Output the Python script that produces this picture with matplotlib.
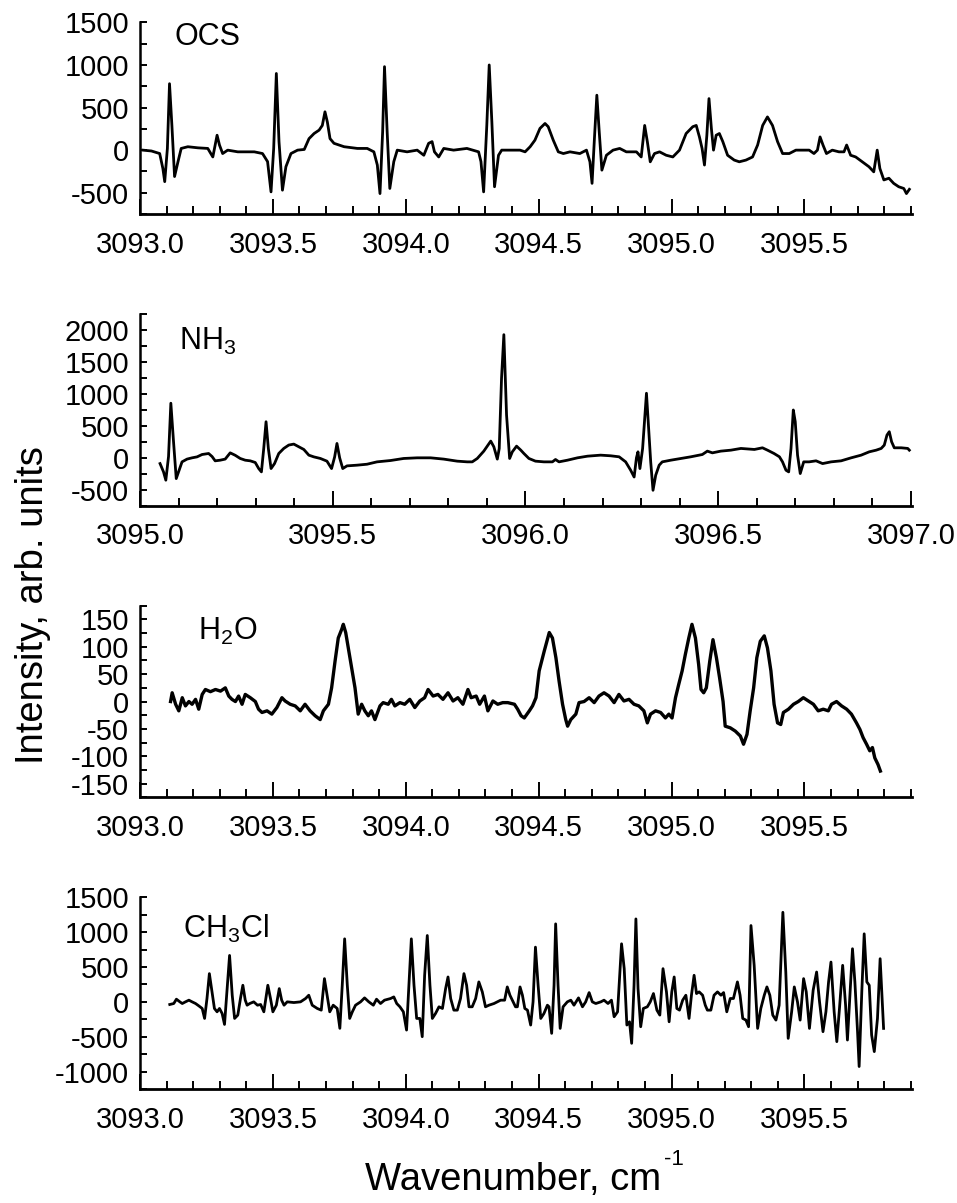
import matplotlib
matplotlib.use('Agg')
import matplotlib.pyplot as plt
from matplotlib.ticker import MultipleLocator, FormatStrFormatter

plt.rcParams['font.family'] = ['Liberation Sans', 'DejaVu Sans']
plt.rcParams['mathtext.fontset'] = 'custom'
plt.rcParams['mathtext.rm'] = 'Liberation Sans'
plt.rcParams['mathtext.it'] = 'Liberation Sans:italic'
plt.rcParams['axes.unicode_minus'] = False

# OCS
ocs_x = [3093.011, 3093.043, 3093.074, 3093.086, 3093.093, 3093.103, 3093.111, 3093.120, 3093.130, 3093.143,
         3093.155, 3093.180, 3093.218, 3093.255, 3093.274, 3093.290, 3093.299, 3093.311, 3093.330, 3093.368,
         3093.430, 3093.461, 3093.480, 3093.493, 3093.503, 3093.513, 3093.523, 3093.536, 3093.549, 3093.568,
         3093.593, 3093.618, 3093.636, 3093.655, 3093.674, 3093.686, 3093.696, 3093.705, 3093.715, 3093.730,
         3093.768, 3093.818, 3093.855, 3093.880, 3093.893, 3093.903, 3093.913, 3093.920, 3093.930, 3093.940,
         3093.955, 3093.968, 3094.005, 3094.043, 3094.068, 3094.086, 3094.099, 3094.108, 3094.124, 3094.143,
         3094.180, 3094.230, 3094.274, 3094.283, 3094.293, 3094.305, 3094.314, 3094.324, 3094.334, 3094.349,
         3094.361, 3094.418,
         3094.430, 3094.449, 3094.468, 3094.486, 3094.505, 3094.524, 3094.536, 3094.555, 3094.574, 3094.593,
         3094.618, 3094.655, 3094.680, 3094.693, 3094.701, 3094.710, 3094.719, 3094.728, 3094.738, 3094.755,
         3094.780, 3094.805, 3094.830, 3094.868, 3094.886, 3094.899, 3094.909, 3094.920, 3094.936, 3094.955,
         3094.980, 3095.005, 3095.030, 3095.055, 3095.080, 3095.093, 3095.105, 3095.115, 3095.124, 3095.133,
         3095.141, 3095.150, 3095.158, 3095.168, 3095.180, 3095.193, 3095.211, 3095.236, 3095.255, 3095.280,
         3095.305, 3095.324, 3095.343, 3095.361, 3095.380, 3095.399, 3095.418, 3095.443, 3095.468, 3095.493,
         3095.518, 3095.536, 3095.549, 3095.559, 3095.570, 3095.583, 3095.605, 3095.630, 3095.649, 3095.659,
         3095.674, 3095.693, 3095.718, 3095.743, 3095.761, 3095.774, 3095.784, 3095.799, 3095.818, 3095.836,
         3095.855, 3095.874, 3095.884, 3095.895]
ocs_y = [0, -10, -40, -215, -370, 20, 780, 290, -310, -135,
         20, 40, 27, 20, -80, 175, 60, -40, 0, -20,
         -20, -40, -135, -490, 20, 900, 100, -470, -195, -40,
         0, 8, 135, 195, 235, 290, 450, 330, 135, 80,
         40, 20, 20, -20, -175, -510, 215, 980, 215, -450,
         -135, 0, -20, 0, -60, 80, 100, -20, -80, 20,
         0, 20, -20, -135, -490, 295, 1000, 330, -430, -60,
         0, 0,
         0, -20, 40, 117, 255, 313, 275, 117, -20, -40,
         -20, -40, 0, -137, -390, 140, 645, 215, -235, -60,
         0, 20, -20, -20, -80, 290, 100, -137, -40, -20,
         -60, -80, 0, 195, 275, 290, 155, 20, -175, 175,
         605, 255, 0, 175, 195, 100, -60, -117, -137, -117,
         -80, 60, 290, 390, 290, 100, -40, -40, 0, 0,
         0, -40, 0, 155, 60, -40, 0, -20, -20, 60,
         -60, -80, -137, -195, -255, 0, -215, -350, -330, -390,
         -430, -450, -510, -460]

# NH3
nh3_x = [3095.052, 3095.061, 3095.067, 3095.074, 3095.080, 3095.087, 3095.094, 3095.100, 3095.109, 3095.122,
         3095.135, 3095.148, 3095.161, 3095.178, 3095.187, 3095.195, 3095.208, 3095.221, 3095.234, 3095.247,
         3095.260, 3095.273, 3095.286, 3095.299, 3095.308, 3095.315, 3095.321, 3095.327, 3095.333, 3095.340,
         3095.349, 3095.360, 3095.373, 3095.386, 3095.399, 3095.412, 3095.425, 3095.438, 3095.451, 3095.468,
         3095.485, 3095.497, 3095.505, 3095.511, 3095.518, 3095.526, 3095.537, 3095.563, 3095.589, 3095.615,
         3095.650, 3095.684, 3095.719, 3095.754, 3095.788, 3095.823, 3095.849, 3095.862, 3095.875, 3095.892,
         3095.910, 3095.918, 3095.927, 3095.932, 3095.938, 3095.944, 3095.951, 3095.959, 3095.966, 3095.977,
         3095.988,
         3095.996, 3096.009, 3096.026, 3096.048, 3096.070, 3096.078, 3096.087, 3096.109, 3096.135, 3096.161,
         3096.195, 3096.221, 3096.243, 3096.260, 3096.273, 3096.282, 3096.288, 3096.292, 3096.297, 3096.304,
         3096.309, 3096.314, 3096.319, 3096.325, 3096.331, 3096.338, 3096.347, 3096.355, 3096.377, 3096.403,
         3096.429, 3096.459, 3096.472, 3096.485, 3096.507, 3096.533, 3096.559, 3096.594, 3096.615, 3096.628,
         3096.645, 3096.659, 3096.667, 3096.676, 3096.683, 3096.689, 3096.695, 3096.700, 3096.706, 3096.713,
         3096.722, 3096.736, 3096.754, 3096.771, 3096.793, 3096.819, 3096.845, 3096.871, 3096.892, 3096.910,
         3096.923, 3096.931, 3096.938, 3096.944, 3096.950, 3096.957, 3096.975, 3096.992, 3096.996]
nh3_y = [-90, -220, -350, 20, 855, 250, -325, -220, -63, -20,
         0, 15, 52, 68, 20, -47, -37, -20, 78, 40,
         -10, -37, -47, -73, -168, -220, 145, 565, 145, -168,
         -90, 68, 147, 200, 215, 173, 131, 42, 15, -10,
         -52, -168, 15, 225, 0, -168, -126, -115, -100, -63,
         -42, -10, 0, 0, -20, -52, -63, -63, -10, 105,
         262, 173, -20, 145, 1247, 1928, 670, -10, 94, 183,
         120,
         68, -10, -52, -63, -63, -26, -63, -37, 0, 26,
         42, 32, 16, -63, -194, -300, 0, 94, -168, 145,
         566, 1011, 513, -63, -508, -272, -115, -63, -37, -10,
         16, 52, 105, 78, 105, 120, 147, 131, 157, 120,
         68, 16, -63, -194, -220, 145, 749, 566, 42, -246,
         -63, -63, -47, -90, -63, -47, 0, 42, 94, 120,
         147, 199, 356, 409, 252, 157, 157, 147, 120]

# H2O
h2o_x = [3093.115, 3093.121, 3093.134, 3093.146, 3093.159, 3093.171, 3093.184, 3093.196, 3093.209, 3093.221,
         3093.234, 3093.246, 3093.265, 3093.284, 3093.303, 3093.321, 3093.334, 3093.346, 3093.359, 3093.371,
         3093.384, 3093.396, 3093.415, 3093.434, 3093.446, 3093.459, 3093.478, 3093.496, 3093.515, 3093.534,
         3093.546, 3093.565, 3093.584, 3093.603, 3093.621, 3093.640, 3093.659, 3093.678, 3093.690, 3093.709,
         3093.721, 3093.734, 3093.746, 3093.759, 3093.765, 3093.774, 3093.790, 3093.809, 3093.821, 3093.834,
         3093.846, 3093.859, 3093.871, 3093.884, 3093.903, 3093.915, 3093.934, 3093.946, 3093.959, 3093.978,
         3093.996, 3094.015, 3094.034, 3094.053, 3094.071, 3094.084, 3094.103, 3094.121, 3094.140, 3094.159,
         3094.178, 3094.196, 3094.215, 3094.234, 3094.246, 3094.265, 3094.278, 3094.296, 3094.309, 3094.328,
         3094.346, 3094.365, 3094.384, 3094.409,
         3094.421, 3094.434, 3094.446, 3094.465, 3094.477, 3094.490, 3094.502, 3094.521, 3094.540, 3094.552,
         3094.565, 3094.577, 3094.590, 3094.602, 3094.609, 3094.621, 3094.640, 3094.652, 3094.671, 3094.690,
         3094.709, 3094.727, 3094.746, 3094.765, 3094.784, 3094.802, 3094.821, 3094.840, 3094.859, 3094.877,
         3094.896, 3094.909, 3094.921, 3094.940, 3094.959, 3094.977, 3094.990, 3095.002, 3095.015, 3095.027,
         3095.040, 3095.052, 3095.065, 3095.077, 3095.090, 3095.102, 3095.111, 3095.121, 3095.131, 3095.144,
         3095.156, 3095.169, 3095.181, 3095.194, 3095.202, 3095.221, 3095.240, 3095.259, 3095.271, 3095.284,
         3095.296, 3095.309, 3095.321, 3095.334, 3095.349, 3095.361, 3095.374, 3095.386, 3095.399, 3095.411,
         3095.421, 3095.440, 3095.459, 3095.477, 3095.496, 3095.515, 3095.534, 3095.552, 3095.571, 3095.590,
         3095.602, 3095.621, 3095.640, 3095.659, 3095.677, 3095.696, 3095.709, 3095.721, 3095.734, 3095.746,
         3095.756, 3095.765, 3095.777, 3095.786]
h2o_y = [0, 16, -5, -17, 7, -8, 0, -5, 4, -14,
         13, 22, 18, 22, 19, 25, 10, 4, 0, 10,
         -5, 13, 7, 0, -14, -20, -17, -23, -11, 7,
         1, -5, -8, -17, -5, -17, -26, -33, -17, -5,
         25, 74, 116, 132, 141, 126, 80, 25, -23, -5,
         -17, -26, -17, -33, -8, -2, -5, 4, -8, -2,
         -5, 4, -11, 1, 7, 22, 10, 13, 4, 16,
         1, 7, -5, 22, 7, 10, -5, 10, -17, 1,
         -5, -2, -2, -5,
         -14, -26, -30, -17, -8, 7, 56, 92, 126, 116,
         80, 37, -5, -33, -45, -33, -23, -2, 0, 7,
         -2, 10, 16, 10, -2, 13, 1, 4, -5, -8,
         -17, -39, -23, -17, -20, -30, -23, -30, 7, 31,
         56, 86, 116, 141, 116, 68, 22, 16, 25, 74,
         113, 80, 43, 0, -45, -48, -54, -63, -78, -60,
         -17, 25, 80, 110, 120, 98, 56, -5, -39, -42,
         -20, -14, -5, 0, 7, 1, -5, -17, -14, -17,
         -5, 0, -8, -14, -23, -39, -51, -66, -78, -90,
         -84, -103, -115, -127]

# CH3Cl
ch3cl_x = [3093.112, 3093.127, 3093.137, 3093.150, 3093.159, 3093.171, 3093.184, 3093.196, 3093.209, 3093.221,
           3093.234, 3093.243, 3093.252, 3093.261, 3093.271, 3093.280, 3093.290, 3093.299, 3093.309, 3093.318,
           3093.328, 3093.337, 3093.347, 3093.356, 3093.368, 3093.378, 3093.387, 3093.396, 3093.403, 3093.413,
           3093.428, 3093.442, 3093.454, 3093.466, 3093.481, 3093.491, 3093.500, 3093.513, 3093.524, 3093.533,
           3093.542, 3093.554, 3093.579, 3093.604, 3093.623, 3093.635, 3093.648, 3093.667, 3093.682, 3093.694,
           3093.704, 3093.714, 3093.727, 3093.742, 3093.752, 3093.761, 3093.770, 3093.780, 3093.789, 3093.799,
           3093.811, 3093.830, 3093.845, 3093.861, 3093.878, 3093.890, 3093.905, 3093.920, 3093.943, 3093.955,
           3093.966, 3093.978, 3093.991, 3094.003, 3094.012, 3094.021, 3094.031, 3094.041, 3094.053, 3094.062,
           3094.071, 3094.081, 3094.091, 3094.100, 3094.112, 3094.125, 3094.138, 3094.150, 3094.159, 3094.169,
           3094.181, 3094.194, 3094.206, 3094.219, 3094.229, 3094.238, 3094.250, 3094.263, 3094.275, 3094.288,
           3094.300, 3094.313, 3094.332, 3094.357, 3094.372, 3094.382, 3094.392, 3094.401, 3094.413,
           3094.420, 3094.430, 3094.439, 3094.448, 3094.458, 3094.470, 3094.479, 3094.488, 3094.498, 3094.508,
           3094.520, 3094.533, 3094.539, 3094.549, 3094.558, 3094.564, 3094.573, 3094.581, 3094.592, 3094.608,
           3094.621, 3094.633, 3094.650, 3094.665, 3094.677, 3094.690, 3094.702, 3094.715, 3094.734, 3094.746,
           3094.761, 3094.774, 3094.784, 3094.797, 3094.812, 3094.822, 3094.832, 3094.842, 3094.850, 3094.859,
           3094.866, 3094.874, 3094.884, 3094.894, 3094.909, 3094.920, 3094.932, 3094.945, 3094.956, 3094.968,
           3094.981, 3094.991, 3095.001, 3095.010, 3095.020, 3095.030, 3095.042, 3095.054, 3095.066, 3095.075,
           3095.085, 3095.094, 3095.104, 3095.117, 3095.127, 3095.135, 3095.148, 3095.160, 3095.173, 3095.186,
           3095.196, 3095.208, 3095.221, 3095.233, 3095.248, 3095.258, 3095.268, 3095.280, 3095.290, 3095.299,
           3095.311, 3095.324, 3095.336, 3095.349, 3095.359, 3095.370, 3095.381, 3095.393, 3095.405, 3095.419,
           3095.430, 3095.439, 3095.452, 3095.462, 3095.474, 3095.484, 3095.497, 3095.507, 3095.519, 3095.533,
           3095.546, 3095.557, 3095.570, 3095.581, 3095.591, 3095.600, 3095.612, 3095.622, 3095.632, 3095.644,
           3095.655, 3095.662, 3095.672, 3095.681, 3095.690, 3095.700, 3095.706, 3095.716, 3095.725, 3095.735,
           3095.744, 3095.753, 3095.763, 3095.775, 3095.785, 3095.798]
ch3cl_y = [-38, -24, 38, 0, -24, 0, 24, 0, -24, -57,
           -95, -238, 48, 405, 143, -95, -143, -95, -167, -324,
           190, 666, 95, -238, -190, 48, 238, 24, -48, -24,
           0, -48, -38, -143, 238, 48, -143, -48, 190, 24,
           -48, 0, -10, 0, 48, 95, -48, -95, -119, 333,
           95, -143, -48, -95, -380, 238, 904, 238, -238, -143,
           -48, 0, 57, 0, -48, 38, -24, 24, 48, 71,
           -24, -71, -143, -405, 238, 904, 238, -238, -238, -500,
           380, 952, 238, -238, -167, -71, -95, 190, 357, 48,
           -119, -119, 48, 405, 238, -71, -71, 48, 286, 143,
           -71, -48, -24, 24, 24, 214, 95, 24, -71,
           -71, 214, 95, -95, -119, -333, 0, 785, 238, -238,
           -167, -48, -71, -452, 238, 1119, 238, -381, -71, 0,
           24, -48, 57, -71, 0, 133, 0, -24, 0, 24,
           -24, 24, -214, -143, 833, 476, -333, -286, -595, 238,
           1190, 190, -357, -95, -71, 0, 119, -119, -190, 476,
           143, -286, 143, 357, -95, -119, 24, 95, -238, 95,
           381, 119, 143, 95, -48, -119, -119, 95, 143, 95,
           133, -143, 48, 48, 286, 95, -238, -262, -357, 1095,
           524, -381, -95, 95, 214, 95, -190, -262, -48, 1285,
           428, -524, -143, 214, 0, -262, 333, 143, -381, 167,
           428, 0, -428, -143, 286, 571, -143, -571, -95, 524,
           -48, -548, 143, 762, 286, -428, -928, 143, 976, 286,
           238, -476, -714, -238, 619, -381]

fig = plt.figure(figsize=(9.57, 12.03), dpi=100)

panels = [
    (ocs_x, ocs_y, 'OCS', (3093.0, 3095.905), (-750, 1500), 500, 250, 0.8221, (0.045, 0.882), 2.0),
    (nh3_x, nh3_y, 'NH$_3$', (3095.0, 3097.003), (-750, 2250), 500, 250, 0.5796, (0.05, 0.812), 2.0),
    (h2o_x, h2o_y, 'H$_2$O', (3093.0, 3095.905), (-175, 175), 50, 25, 0.3372, (0.075, 0.824), 2.4),
    (ch3cl_x, ch3cl_y, 'CH$_3$Cl', (3093.0, 3095.905), (-1250, 1500), 500, 250, 0.0948, (0.056, 0.789), 2.0),
]

for xs, ys, name, xlim, ylim, ymaj, ymin, bottom, lab, lw in panels:
    ax = fig.add_axes([0.1463, bottom, 0.8067, 0.1593])
    ax.plot(xs, ys, color='black', lw=lw)
    ax.set_xlim(xlim)
    ax.set_ylim(ylim)
    ax.spines['top'].set_visible(False)
    ax.spines['right'].set_visible(False)
    ax.spines['left'].set_linewidth(1.8)
    ax.spines['bottom'].set_linewidth(2.0)
    ax.xaxis.set_major_locator(MultipleLocator(0.5))
    ax.xaxis.set_minor_locator(MultipleLocator(0.1))
    ax.xaxis.set_major_formatter(FormatStrFormatter('%.1f'))
    ax.yaxis.set_major_locator(MultipleLocator(ymaj))
    ax.yaxis.set_minor_locator(MultipleLocator(ymin))
    ax.tick_params(axis='x', which='major', direction='in', length=11, width=1.4, pad=12, labelsize=21)
    ax.tick_params(axis='x', which='minor', direction='in', length=5.5, width=1.4)
    ax.tick_params(axis='y', which='both', direction='in', length=5, width=1.4, pad=8, labelsize=21)
    ax.text(lab[0], lab[1], name, transform=ax.transAxes, fontsize=22, va='baseline', ha='left')

fig.text(0.035, 1 - 605 / 1203, 'Intensity, arb. units', rotation=90, ha='center', va='center', fontsize=27.5)
xl = fig.text(0.3814, 0.0108, 'Wavenumber, cm', ha='left', va='baseline', fontsize=27.5)
fig.canvas.draw()
bb = xl.get_window_extent().transformed(fig.transFigure.inverted())
fig.text(bb.x1 + 0.003, 0.0316, '-1', ha='left', va='baseline', fontsize=16)

fig.savefig('out.png', dpi=100)
